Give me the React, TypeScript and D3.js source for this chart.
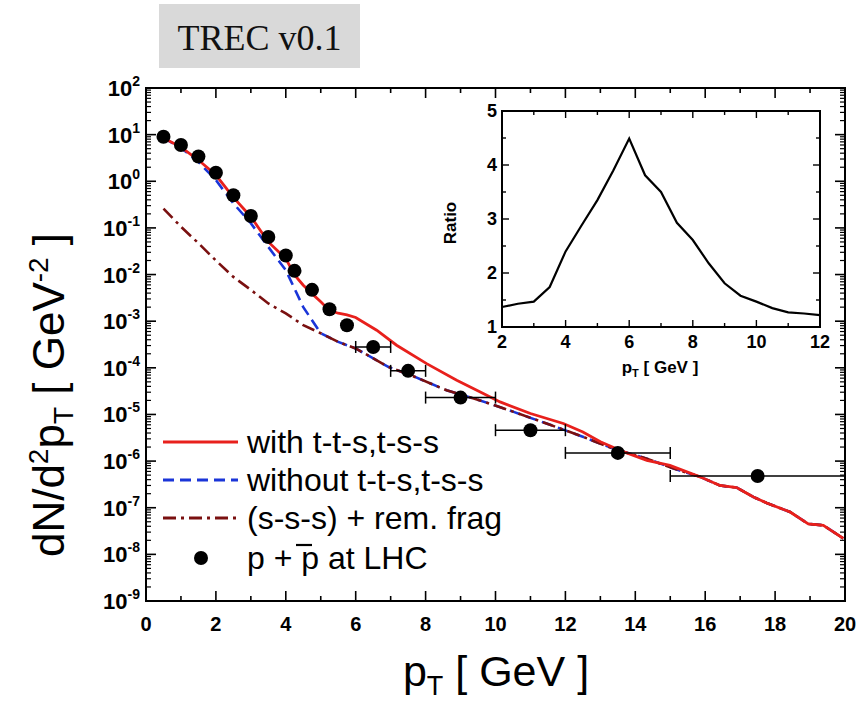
import React from 'react';
import * as d3 from 'd3';

// Data points (p + pbar at LHC)
const dataPt = [0.5, 1, 1.5, 2, 2.5, 3, 3.5, 4, 4.25, 4.75, 5.25, 5.75, 6.5, 7.5, 9, 11, 13.5, 17.5];
const dataVal = [9.0, 6.0, 3.4, 1.52, 0.5, 0.18, 0.064, 0.0257, 0.012, 0.0047, 0.0018, 8.2e-4, 2.8e-4, 8.6e-5, 2.3e-5, 4.6e-6, 1.5e-6, 4.8e-7];
const dataPtLo = [0.5, 1, 1.5, 2, 2.5, 3, 3.5, 4, 4.25, 4.75, 5.25, 5.75, 6, 7, 8, 10, 12, 15];
const dataPtHi = [0.5, 1, 1.5, 2, 2.5, 3, 3.5, 4, 4.25, 4.75, 5.25, 5.75, 7, 8, 10, 12, 15, 20];

// with t-t-s,t-s-s
const withPt = [0.5, 1, 1.5, 2, 2.5, 3, 3.5, 4, 4.25, 4.5, 4.75, 5, 5.25, 5.5, 5.75, 6, 6.6, 7.17, 8.03, 8.89, 9.65, 10.13, 11, 11.94, 12.5, 13, 13.56, 14.33, 14.99, 15.85, 16.42, 16.9, 17.38, 17.76, 18.43, 18.95, 19.38, 19.95];
const withVal = [8.5, 5.4, 2.85, 1.36, 0.45, 0.174, 0.05, 0.022, 0.0098, 0.0059, 0.0039, 0.0026, 0.0017, 0.00148, 0.00136, 0.0012, 6.4e-4, 3.05e-4, 1.23e-4, 5.4e-5, 2.8e-5, 1.86e-5, 1.05e-5, 6.4e-6, 4.2e-6, 2.6e-6, 1.7e-6, 1.04e-6, 8.1e-7, 4.6e-7, 3.0e-7, 2.7e-7, 1.7e-7, 1.26e-7, 8.1e-8, 4.5e-8, 4.2e-8, 2.2e-8];

// without t-t-s,t-s-s
const withoutPt = [0.5, 1, 1.5, 2, 2.5, 3, 3.5, 4, 4.5, 4.75, 5, 5.5, 6, 6.93, 7.65, 8.6, 9.56, 10.5, 11.46, 12.42, 13.37, 14.33, 15.1, 15.85, 16.42, 16.9, 17.38, 17.76, 18.43, 18.95, 19.38, 19.95];
const withoutVal = [8.5, 5.2, 2.6, 1.06, 0.336, 0.126, 0.039, 0.0124, 0.002, 0.00105, 0.00055, 0.00036, 0.00026, 1.05e-4, 6.6e-5, 3.3e-5, 2.0e-5, 1.15e-5, 6.4e-6, 3.5e-6, 1.85e-6, 1.13e-6, 6.9e-7, 4.6e-7, 3.0e-7, 2.7e-7, 1.7e-7, 1.26e-7, 8.1e-8, 4.5e-8, 4.2e-8, 2.2e-8];

// (s-s-s) + rem. frag
const sssPt = [0.5, 1, 1.5, 2, 2.5, 3, 3.5, 4, 4.5, 5, 5.5, 6, 6.93, 7.65, 8.6, 9.56, 10.5, 11.46, 12.42, 13.37, 14.33, 15.1, 15.85, 16.42, 16.9, 17.38, 17.76, 18.43, 18.95, 19.38, 19.95];
const sssVal = [0.26, 0.106, 0.047, 0.02, 0.0089, 0.0047, 0.0024, 0.00147, 0.00082, 0.00055, 0.00036, 0.00026, 1.05e-4, 6.6e-5, 3.3e-5, 2.0e-5, 1.15e-5, 6.4e-6, 3.5e-6, 1.85e-6, 1.13e-6, 6.9e-7, 4.6e-7, 3.0e-7, 2.7e-7, 1.7e-7, 1.26e-7, 8.1e-8, 4.5e-8, 4.2e-8, 2.2e-8];

// Inset ratio
const ratioPt = [2, 2.5, 3, 3.5, 4, 4.5, 5, 5.5, 6, 6.5, 7, 7.5, 8, 8.5, 9, 9.5, 10, 10.5, 11, 11.5, 12];
const ratioVal = [1.37, 1.43, 1.47, 1.74, 2.4, 2.88, 3.35, 3.9, 4.49, 3.81, 3.5, 2.93, 2.61, 2.18, 1.81, 1.58, 1.47, 1.35, 1.27, 1.25, 1.22];

const xTicks = [0, 2, 4, 6, 8, 10, 12, 14, 16, 18, 20];
const yExponents = [2, 1, 0, -1, -2, -3, -4, -5, -6, -7, -8, -9];
const insetXTicks = [2, 4, 6, 8, 10, 12];
const insetYTicks = [1, 2, 3, 4, 5];

const legendLabels = ['with t-t-s,t-s-s', 'without t-t-s,t-s-s', '(s-s-s) + rem. frag'];

const RED = '#e8201c';
const BLUE = '#1a35d8';
const DARKRED = '#7a1010';
const SANS = '"Liberation Sans", Arial, sans-serif';

export default function App() {
  const x = d3.scaleLinear().domain([0, 20]).range([146, 845]);
  const y = d3.scaleLog().domain([1e-9, 1e2]).range([601, 88]);
  const [x0, x1] = x.range();
  const [yb, yt] = y.range();

  const xi = d3.scaleLinear().domain([2, 12]).range([502, 820]);
  const yi = d3.scaleLinear().domain([1, 5]).range([327, 111]);

  const mainLine = (xs: number[], vs: number[]) =>
    d3.line<number>().x((_, i) => x(xs[i])).y((v) => y(v))(vs) || '';
  const ratioLine = d3.line<number>().x((_, i) => xi(ratioPt[i])).y((v) => yi(v))(ratioVal) || '';

  const yMinor: number[] = [];
  for (let k = -9; k < 2; k++) for (let m = 2; m <= 9; m++) yMinor.push(m * Math.pow(10, k));
  const xAll = d3.range(0, 21, 1);

  const ticks: JSX.Element[] = [];
  xAll.forEach((t) => {
    const len = t % 2 === 0 ? 10 : 5;
    ticks.push(<line key={'xb' + t} x1={x(t)} x2={x(t)} y1={yb} y2={yb - len} stroke="#000" strokeWidth={1.6} />);
    ticks.push(<line key={'xt' + t} x1={x(t)} x2={x(t)} y1={yt} y2={yt + len} stroke="#000" strokeWidth={1.6} />);
  });
  yExponents.forEach((e) => {
    const v = Math.pow(10, e);
    ticks.push(<line key={'yl' + e} x1={x0} x2={x0 + 10} y1={y(v)} y2={y(v)} stroke="#000" strokeWidth={1.6} />);
    ticks.push(<line key={'yr' + e} x1={x1} x2={x1 - 10} y1={y(v)} y2={y(v)} stroke="#000" strokeWidth={1.6} />);
  });
  yMinor.forEach((v, i) => {
    ticks.push(<line key={'ylm' + i} x1={x0} x2={x0 + 5} y1={y(v)} y2={y(v)} stroke="#000" strokeWidth={1.2} />);
    ticks.push(<line key={'yrm' + i} x1={x1} x2={x1 - 5} y1={y(v)} y2={y(v)} stroke="#000" strokeWidth={1.2} />);
  });

  const [ix0, ix1] = xi.range();
  const [iyb, iyt] = yi.range();
  const iticks: JSX.Element[] = [];
  d3.range(2, 13, 1).forEach((t) => {
    const len = t % 2 === 0 ? 7 : 4;
    iticks.push(<line key={'ixb' + t} x1={xi(t)} x2={xi(t)} y1={iyb} y2={iyb - len} stroke="#000" strokeWidth={1.4} />);
    iticks.push(<line key={'ixt' + t} x1={xi(t)} x2={xi(t)} y1={iyt} y2={iyt + len} stroke="#000" strokeWidth={1.4} />);
  });
  d3.range(1, 5.01, 0.5).forEach((t) => {
    const len = Number.isInteger(t) ? 7 : 4;
    iticks.push(<line key={'iyl' + t} x1={ix0} x2={ix0 + len} y1={yi(t)} y2={yi(t)} stroke="#000" strokeWidth={1.4} />);
    iticks.push(<line key={'iyr' + t} x1={ix1} x2={ix1 - len} y1={yi(t)} y2={yi(t)} stroke="#000" strokeWidth={1.4} />);
  });

  const legendRows = [442, 480, 518, 558];
  const legendStyles = [
    { stroke: RED, dash: undefined as string | undefined },
    { stroke: BLUE, dash: '11 6' },
    { stroke: DARKRED, dash: '13 5 3 5' },
  ];

  return (
    <svg width={858} height={705} style={{ position: 'absolute', left: 0, top: 0, background: '#fff' }}>
      <rect x={0} y={0} width={858} height={705} fill="#fff" />
      <rect x={159} y={4} width={201} height={64} fill="#d9d9d9" />
      <text x={259.5} y={50} textAnchor="middle" fontFamily='"Liberation Serif", "Times New Roman", serif' fontSize={36} fill="#111">
        TREC v0.1
      </text>

      <path d={mainLine(withoutPt, withoutVal)} fill="none" stroke={BLUE} strokeWidth={2.6} strokeDasharray="11 6" />
      <path d={mainLine(sssPt, sssVal)} fill="none" stroke={DARKRED} strokeWidth={2.6} strokeDasharray="13 5 3 5" />
      <path d={mainLine(withPt, withVal)} fill="none" stroke={RED} strokeWidth={2.8} />

      {dataPt.map((p, i) =>
        dataPtHi[i] > dataPtLo[i] ? (
          <g key={'eb' + i} stroke="#000" strokeWidth={1.5}>
            <line x1={x(dataPtLo[i])} x2={x(dataPtHi[i])} y1={y(dataVal[i])} y2={y(dataVal[i])} />
            <line x1={x(dataPtLo[i])} x2={x(dataPtLo[i])} y1={y(dataVal[i]) - 6} y2={y(dataVal[i]) + 6} />
            {dataPtHi[i] < 20 && <line x1={x(dataPtHi[i])} x2={x(dataPtHi[i])} y1={y(dataVal[i]) - 6} y2={y(dataVal[i]) + 6} />}
          </g>
        ) : null
      )}
      {dataPt.map((p, i) => (
        <circle key={'pt' + i} cx={x(p)} cy={y(dataVal[i])} r={7} fill="#000" />
      ))}

      <rect x={x0} y={yt} width={x1 - x0} height={yb - yt} fill="none" stroke="#000" strokeWidth={2} />
      {ticks}

      {xTicks.map((t) => (
        <text key={'xl' + t} x={x(t)} y={631} textAnchor="middle" fontFamily={SANS} fontWeight="bold" fontSize={20}>
          {t}
        </text>
      ))}
      {yExponents.map((e) => (
        <text key={'ylab' + e} x={140} y={y(Math.pow(10, e)) + 8} textAnchor="end" fontFamily={SANS} fontWeight="bold" fontSize={22}>
          10
          <tspan fontSize={14} dy={-10}>{e}</tspan>
        </text>
      ))}

      <text x={496} y={686} textAnchor="middle" fontFamily={SANS} fontSize={43}>
        p<tspan fontSize={27} dy={9}>T</tspan>
        <tspan dy={-9}> [ GeV ]</tspan>
      </text>
      <text transform="translate(64,395) rotate(-90)" textAnchor="middle" fontFamily={SANS} fontSize={44}>
        dN/d<tspan fontSize={28} dy={-16}>2</tspan>
        <tspan dy={16}>p</tspan>
        <tspan fontSize={28} dy={9}>T</tspan>
        <tspan dy={-9}> [ GeV</tspan>
        <tspan fontSize={28} dy={-16}>-2</tspan>
        <tspan dy={16}> ]</tspan>
      </text>

      {legendLabels.map((lab, i) => (
        <g key={'lg' + i}>
          <line x1={163} x2={238} y1={legendRows[i]} y2={legendRows[i]} stroke={legendStyles[i].stroke} strokeWidth={2.8} strokeDasharray={legendStyles[i].dash} />
          <text x={247} y={legendRows[i] + 11} fontFamily={SANS} fontSize={32}>
            {lab}
          </text>
        </g>
      ))}
      <circle cx={201} cy={legendRows[3]} r={7} fill="#000" />
      <text x={247} y={legendRows[3] + 11} fontFamily={SANS} fontSize={32}>
        p + p at LHC
      </text>
      <line x1={296} x2={312} y1={legendRows[3] - 13} y2={legendRows[3] - 13} stroke="#000" strokeWidth={2.2} />

      <rect x={ix0} y={iyt} width={ix1 - ix0} height={iyb - iyt} fill="#fff" stroke="#000" strokeWidth={2} />
      <path d={ratioLine} fill="none" stroke="#000" strokeWidth={2.2} />
      {iticks}
      {insetXTicks.map((t) => (
        <text key={'ixl' + t} x={xi(t)} y={348} textAnchor="middle" fontFamily={SANS} fontWeight="bold" fontSize={18}>
          {t}
        </text>
      ))}
      {insetYTicks.map((t) => (
        <text key={'iyl' + t} x={497} y={yi(t) + 6} textAnchor="end" fontFamily={SANS} fontWeight="bold" fontSize={18}>
          {t}
        </text>
      ))}
      <text x={660} y={373} textAnchor="middle" fontFamily={SANS} fontWeight="bold" fontSize={17}>
        p<tspan fontSize={11} dy={4}>T</tspan>
        <tspan dy={-4}> [ GeV ]</tspan>
      </text>
      <text transform="translate(456,223) rotate(-90)" textAnchor="middle" fontFamily={SANS} fontWeight="bold" fontSize={17}>
        Ratio
      </text>
    </svg>
  );
}
